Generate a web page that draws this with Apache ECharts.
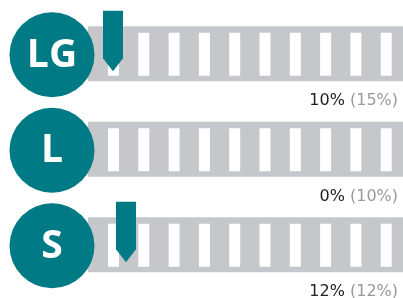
<!DOCTYPE html>
<html>
<head>
<meta charset="utf-8">
<script src="https://cdn.jsdelivr.net/npm/echarts@6/dist/echarts.min.js"></script>
<style>
html, body { margin: 0; padding: 0; background: #fff; }
#main { width: 403px; height: 298px; }
</style>
</head>
<body>
<div id="main"></div>
<script>
var groups = ['LG', 'L', 'S'];
var values = [10, 0, 12];
var compare = [15, 10, 12];

var teal = '#007b85';
var grey = '#c6c7cb';

var myChart = echarts.init(document.getElementById('main'));

// track: gray bar with white stripes, round badge, value label
function renderTrack(params, api) {
    var p = api.coord([0, api.value(1)]);
    var x0 = p[0], cy = p[1];
    var w = api.getWidth();
    var children = [{
        type: 'rect',
        shape: { x: x0 + 40, y: cy - 27.5, width: w - x0 - 40, height: 55 },
        style: { fill: grey }
    }];
    for (var k = 0; k < 10; k++) {
        children.push({
            type: 'rect',
            shape: { x: x0 + 60 + k * 30.3, y: cy - 21, width: 11, height: 43 },
            style: { fill: '#fff' }
        });
    }
    children.push({
        type: 'circle',
        shape: { cx: x0 + 4, cy: cy + 1, r: 42.5 },
        style: { fill: teal }
    });
    children.push({
        type: 'text',
        x: x0 + 4, y: cy + 2,
        style: {
            text: groups[params.dataIndex],
            fill: '#fff',
            font: 'bold 39px "Open Sans"',
            align: 'center',
            verticalAlign: 'middle'
        }
    });
    children.push({
        type: 'text',
        x: w - 5, y: cy + 47.5,
        style: {
            text: api.value(2) + '% {g|(' + api.value(3) + '%)}',
            fill: '#222',
            font: '16px "DejaVu Sans"',
            align: 'right',
            verticalAlign: 'middle',
            rich: { g: { fill: '#999', font: '16px "DejaVu Sans"' } }
        }
    });
    return { type: 'group', children: children };
}

// pointer marking the value on the track
function renderMarker(params, api) {
    var v = api.value(0);
    if (v <= 0) return null;
    var p = api.coord([v, api.value(1)]);
    var x = p[0], cy = p[1];
    return {
        type: 'polygon',
        shape: {
            points: [
                [x - 10, cy - 43], [x + 10, cy - 43], [x + 10, cy + 4.5],
                [x, cy + 17.5], [x - 10, cy + 4.5]
            ]
        },
        style: { fill: teal }
    };
}

var option = {
    animation: false,
    grid: { left: 48, top: 6, width: 650, height: 286.5, outerBoundsMode: 'none' },
    xAxis: { type: 'value', min: 0, max: 100, show: false },
    yAxis: { type: 'category', data: groups, inverse: true, show: false },
    series: [
        {
            type: 'custom',
            renderItem: renderTrack,
            data: groups.map(function (g, i) { return [0, i, values[i], compare[i]]; }),
            clip: false,
            z: 1
        },
        {
            type: 'custom',
            renderItem: renderMarker,
            data: values.map(function (v, i) { return [v, i]; }),
            clip: false,
            z: 2
        }
    ]
};
myChart.setOption(option);
</script>
</body>
</html>
